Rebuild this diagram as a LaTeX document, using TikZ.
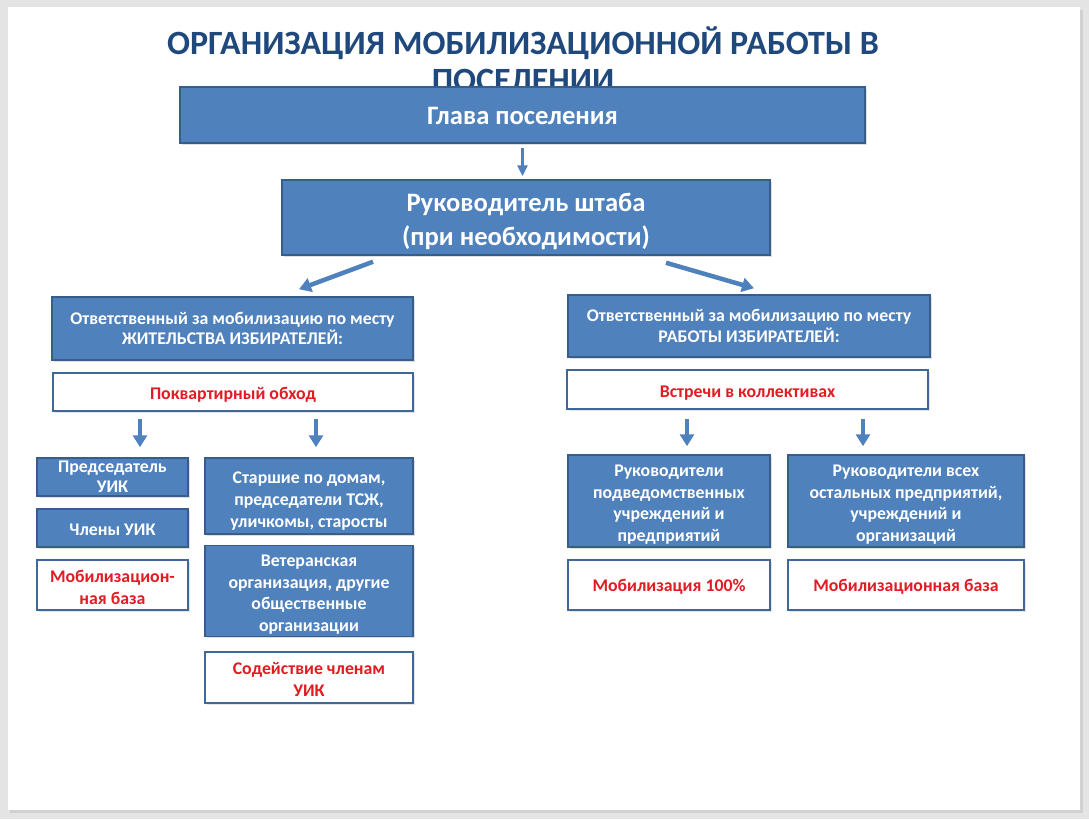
\documentclass[tikz,border=0pt]{standalone}
\usepackage{fontspec}
\setmainfont{Carlito}
\usetikzlibrary{arrows.meta,shadows}
\definecolor{boxblue}{HTML}{4F81BD}
\definecolor{boxedge}{HTML}{385D8A}
\definecolor{titleblue}{HTML}{1F497D}
\definecolor{redtxt}{HTML}{E31B23}
\definecolor{pagegrey}{HTML}{E4E4E4}
\newcommand{\mystrut}[1]{\rule{0pt}{#1}}
\begin{document}
\begin{tikzpicture}[x=1pt,y=-1pt,
  bluebox/.style={rectangle, fill=boxblue, draw=boxedge, line width=1.5pt, text=white,
    align=center, inner sep=2pt,
    drop shadow={shadow xshift=1.5pt, shadow yshift=-1.5pt, opacity=0.25}},
  whitebox/.style={rectangle, fill=white, draw=boxblue!80!black, line width=1.5pt, text=redtxt,
    align=center, inner sep=2pt,
    drop shadow={shadow xshift=1.5pt, shadow yshift=-1.5pt, opacity=0.2}},
  small/.style={font=\fontsize{17.8}{21.7}\selectfont\bfseries},
  arr/.style={draw=boxblue, line width=3pt, -{Triangle[width=10pt,length=11pt]}},
  bigarr/.style={draw=boxblue, line width=4.5pt, -{Triangle[width=14pt,length=12pt]}}
]
\useasboundingbox (0,0) rectangle (1089,819);
\fill[pagegrey] (0,0) rectangle (1089,819);
\fill[black!18] (10,10) rectangle (1083,813);
\fill[white] (8,7) rectangle (1080,810);

% title
\node[text=titleblue, font=\fontsize{34}{37}\selectfont\bfseries, align=center] (title) at (523,59)
  {ОРГАНИЗАЦИЯ МОБИЛИЗАЦИОННОЙ РАБОТЫ В\\ПОСЕЛЕНИИ};

% top boxes
\node[bluebox, minimum width=685, minimum height=56, font=\fontsize{26.6}{30}\selectfont\bfseries] (glava) at (522.5,115) {\mystrut{19pt}Глава поселения};
\node[bluebox, minimum width=488, minimum height=75, font=\fontsize{26.6}{34}\selectfont\bfseries] (ruk) at (526,217.5) {\mystrut{26pt}Руководитель штаба\\(при необходимости)};

% second level
\node[bluebox, font=\fontsize{17.8}{20.8}\selectfont\bfseries, minimum width=361, minimum height=63] (otvL) at (232.5,328.5)
  {Ответственный за мобилизацию по месту\\ЖИТЕЛЬСТВА ИЗБИРАТЕЛЕЙ:};
\node[bluebox, font=\fontsize{17.8}{20.8}\selectfont\bfseries, minimum width=362, minimum height=62] (otvR) at (749,326)
  {Ответственный за мобилизацию по месту\\РАБОТЫ ИЗБИРАТЕЛЕЙ:};
\node[whitebox, small, minimum width=360, minimum height=38] (pokv) at (233,392) {\mystrut{17.5pt}Поквартирный обход};
\node[whitebox, small, minimum width=361, minimum height=39] (vstr) at (747.5,389.5) {\mystrut{18.5pt}Встречи в коллективах};

% left column
\node[bluebox, font=\fontsize{17.8}{20.5}\selectfont\bfseries, inner ysep=0pt, minimum width=151, minimum height=38] (pred) at (112.5,477) {Председатель\\УИК};
\node[bluebox, small, minimum width=151, minimum height=38] (chl) at (112.5,528) {\mystrut{15pt}Члены УИК};
\node[whitebox, small, minimum width=151, minimum height=50] (mobL) at (112.5,585) {\mystrut{16.5pt}Мобилизацион-\\ная база};
\node[bluebox, small, minimum width=208, minimum height=76] (star) at (309,496)
  {\mystrut{22pt}Старшие по домам,\\председатели ТСЖ,\\уличкомы, старосты};
\node[bluebox, small, minimum width=208, minimum height=90] (vet) at (309,591)
  {\mystrut{19pt}Ветеранская\\организация, другие\\общественные\\организации};
\node[whitebox, small, minimum width=208, minimum height=51] (sod) at (309,677.5) {\mystrut{16pt}Содействие членам\\УИК};

% right column
\node[bluebox, small, minimum width=202, minimum height=92] (rukP) at (669,501)
  {\mystrut{19pt}Руководители\\подведомственных\\учреждений и\\предприятий};
\node[bluebox, small, minimum width=236, minimum height=92] (rukV) at (906,501)
  {\mystrut{19pt}Руководители всех\\остальных предприятий,\\учреждений и\\организаций};
\node[whitebox, small, minimum width=202, minimum height=50] (mob100) at (669,585) {\mystrut{16pt}Мобилизация 100\%};
\node[whitebox, small, minimum width=236, minimum height=50] (mobB) at (906,585) {\mystrut{16pt}Мобилизационная база};

% connectors
\draw[arr] ([yshift=-4pt]glava.south) -- ([xshift=-3.5pt,yshift=3pt]ruk.north);
\draw[bigarr] ([xshift=-153pt,yshift=-6pt]ruk.south) -- ([xshift=66.5pt,yshift=7pt]otvL.north);
\draw[bigarr] ([xshift=140pt,yshift=-7pt]ruk.south) -- ([xshift=5pt,yshift=6pt]otvR.north);
\draw[bigarr] ([xshift=-93pt,yshift=-7pt]pokv.south) -- ([xshift=27.5pt,yshift=10pt]pred.north);
\draw[bigarr] ([xshift=83pt,yshift=-7pt]pokv.south) -- ([xshift=7pt,yshift=10pt]star.north);
\draw[bigarr] ([xshift=-60.5pt,yshift=-9pt]vstr.south) -- ([xshift=18pt,yshift=8pt]rukP.north);
\draw[bigarr] ([xshift=115.5pt,yshift=-9pt]vstr.south) -- ([xshift=-43pt,yshift=8pt]rukV.north);
\end{tikzpicture}
\end{document}
